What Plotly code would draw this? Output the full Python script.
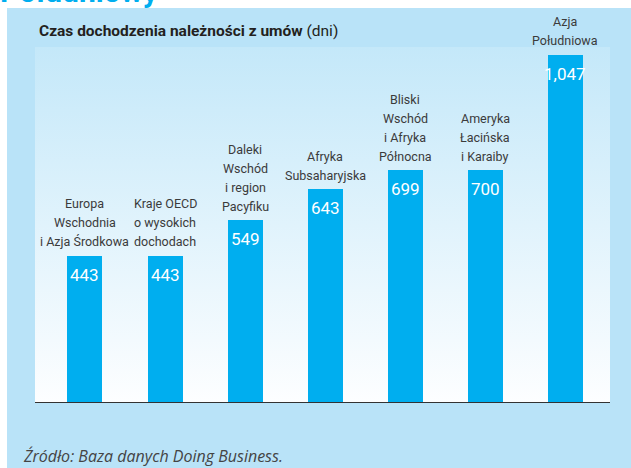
import plotly.graph_objects as go

# Regions (one list of lines per label) and contract enforcement time in days
regions = [
    ["Europa", "Wschodnia", "i Azja Środkowa"],
    ["Kraje OECD", "o wysokich", "dochodach"],
    ["Daleki", "Wschód", "i region", "Pacyfiku"],
    ["Afryka", "Subsaharyjska"],
    ["Bliski", "Wschód", "i Afryka", "Północna"],
    ["Ameryka", "Łacińska", "i Karaiby"],
    ["Azja", "Południowa"],
]
days = [443, 443, 549, 643, 699, 700, 1047]
value_labels = ["443", "443", "549", "643", "699", "700", "1,047"]

title_bold = "Czas dochodzenia należności z umów"
title_unit = "(dni)"
source_text = "Źródło: Baza danych Doing Business."
header_text = "Południowy"

# Page geometry
W, H = 631, 468
ML, MR, MT, MB = 35, 21, 47, 65
PW, PH = W - ML - MR, H - MT - MB

X_RANGE = [-0.624, 6.556]
Y_RANGE = [0, 1070]

BAR = "#00aeef"
OUTER = "#b9e3f8"
PANEL_TOP = "#c4e8f9"
PANEL_BOTTOM = "#fdfeff"
TEXT_DARK = "#231f20"
LABEL = "#3b3b3b"

FONT = "Roboto, Liberation Sans, sans-serif"
LINE_GAP = 19      # px between label lines
LABEL_LIFT = 14    # px from bar top to centre of the last label line

xs = list(range(len(regions)))


def px_x(p):
    return (p - ML) / PW


def px_y(p):
    return (H - MB - p) / PH


fig = go.Figure()

# gradient panel on the base axes
fig.add_trace(go.Scatter(
    x=[X_RANGE[0], X_RANGE[1], X_RANGE[1], X_RANGE[0], X_RANGE[0]],
    y=[Y_RANGE[0], Y_RANGE[0], Y_RANGE[1], Y_RANGE[1], Y_RANGE[0]],
    mode="lines", line=dict(width=0), fill="toself",
    fillgradient=dict(type="vertical",
                      colorscale=[[0, PANEL_BOTTOM], [1, PANEL_TOP]]),
    hoverinfo="skip", showlegend=False, xaxis="x", yaxis="y",
))

# bars on an overlaying pair of axes so they sit above the panel
fig.add_trace(go.Bar(
    x=xs, y=days, width=0.437, marker=dict(color=BAR, line=dict(width=0)),
    showlegend=False, hoverinfo="skip", xaxis="x2", yaxis="y2",
))

annotations = []
for x, v, lines, vl in zip(xs, days, regions, value_labels):
    n = len(lines)
    for j, line in enumerate(lines):
        annotations.append(dict(
            x=x, y=v, xref="x2", yref="y2", text=line, showarrow=False,
            xanchor="center", yanchor="middle",
            yshift=LABEL_LIFT + LINE_GAP * (n - 1 - j),
            font=dict(family=FONT, size=12.5, color=LABEL),
        ))
    annotations.append(dict(
        x=x, y=v, xref="x2", yref="y2", text=vl, showarrow=False,
        xanchor="center", yanchor="middle", yshift=-19,
        font=dict(family=FONT, size=17, color="white"),
    ))

annotations.append(dict(
    x=px_x(37), y=px_y(31), xref="paper", yref="paper",
    text=f"<b>{title_bold}</b> {title_unit}", showarrow=False,
    xanchor="left", yanchor="middle",
    font=dict(family=FONT, size=15.5, color=TEXT_DARK),
))
annotations.append(dict(
    x=px_x(21), y=px_y(456), xref="paper", yref="paper",
    text=f"<i>{source_text}</i>", showarrow=False,
    xanchor="left", yanchor="middle",
    font=dict(family="Open Sans, sans-serif", size=16, color="#444444"),
))
annotations.append(dict(
    x=px_x(-2), y=px_y(4), xref="paper", yref="paper",
    text=f"<b>{header_text}</b>", showarrow=False,
    xanchor="left", yanchor="bottom", yshift=-7,
    font=dict(family=FONT, size=30, color=BAR),
))

shapes = [
    # light blue page background
    dict(type="rect", xref="paper", yref="paper", layer="below",
         x0=px_x(7), x1=px_x(W + 5), y0=px_y(H + 5), y1=px_y(8),
         fillcolor=OUTER, line=dict(width=0)),
    # baseline
    dict(type="line", xref="paper", yref="y", x0=0, x1=1, y0=0, y1=0,
         line=dict(color="#333333", width=2)),
]

fig.update_layout(
    width=W, height=H,
    margin=dict(l=ML, r=MR, t=MT, b=MB),
    paper_bgcolor="white", plot_bgcolor="rgba(0,0,0,0)",
    xaxis=dict(range=X_RANGE, visible=False, fixedrange=True),
    yaxis=dict(range=Y_RANGE, visible=False, fixedrange=True),
    xaxis2=dict(range=X_RANGE, visible=False, fixedrange=True,
                overlaying="x", matches="x"),
    yaxis2=dict(range=Y_RANGE, visible=False, fixedrange=True,
                overlaying="y", matches="y"),
    annotations=annotations, shapes=shapes,
    bargap=0, showlegend=False,
)

fig.write_html("out.html", config={"displayModeBar": False})
